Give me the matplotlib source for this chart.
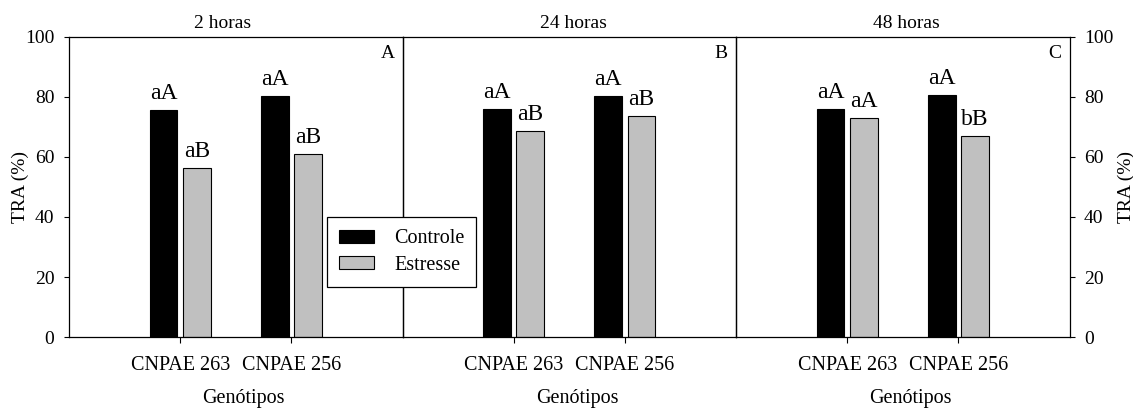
import numpy as np
import matplotlib
matplotlib.use("Agg")
import matplotlib.pyplot as plt
from matplotlib.patches import Patch

plt.rcParams['font.family'] = ['Liberation Serif', 'DejaVu Serif']
plt.rcParams['font.size'] = 14

# dados
genotipos = ["CNPAE 263", "CNPAE 256"]
tempos = ["2 horas", "24 horas", "48 horas"]
paineis = ["A", "B", "C"]
controle = [[75.7, 80.4], [75.9, 80.4], [75.9, 80.6]]
estresse = [[56.2, 61.1], [68.8, 73.8], [73.1, 67.1]]
letras_controle = [["aA", "aA"], ["aA", "aA"], ["aA", "aA"]]
letras_estresse = [["aB", "aB"], ["aB", "aB"], ["aA", "bB"]]

cor_controle = "black"
cor_estresse = "#c0c0c0"

fig = plt.figure(figsize=(11.33, 4.08), dpi=100)
W, H = 1133, 408
left0, pw = 69, 333.5
top_px, bot_px = 37, 337

x = np.arange(1, len(genotipos) + 1)
bw = 0.25
off = 0.15

title_dx = [-13, 4, 4]

for i in range(3):
    ax = fig.add_axes([(left0 + i * pw) / W, 1 - bot_px / H, pw / W, (bot_px - top_px) / H])
    ax.patch.set_alpha(0)
    ax.bar(x - off, controle[i], bw, color=cor_controle, edgecolor="black", linewidth=0.8)
    ax.bar(x + off, estresse[i], bw, color=cor_estresse, edgecolor="black", linewidth=0.8)
    for j in range(len(genotipos)):
        ax.text(x[j] - off, controle[i][j] + 2.0, letras_controle[i][j], ha="center", va="bottom", fontsize=17)
        ax.text(x[j] + off, estresse[i][j] + 2.0, letras_estresse[i][j], ha="center", va="bottom", fontsize=17)
    ax.set_xlim(0, 3)
    ax.set_ylim(0, 100)
    ax.set_xticks(x)
    ax.set_xticklabels(genotipos, fontsize=14.5)
    ax.tick_params(axis="x", direction="out", length=4, pad=10)
    ax.set_xlabel("Genótipos", fontsize=14.5)
    ax.xaxis.set_label_coords(0.5 + 8 / pw, -0.175)
    ax.text(0.5 + title_dx[i] / pw, 1.045, tempos[i], transform=ax.transAxes, ha="center", va="center", fontsize=14)
    ax.text(0.955, 0.945, paineis[i], transform=ax.transAxes, ha="center", va="center", fontsize=14)
    for s in ax.spines.values():
        s.set_linewidth(0.9)
    if i == 0:
        ax.set_yticks(np.arange(0, 101, 20))
        ax.tick_params(axis="y", direction="out", length=3.5, pad=7)
        ax.set_ylabel("TRA (%)")
        ax.yaxis.set_label_coords(-0.12, 0.5)
    elif i == 2:
        ax.yaxis.tick_right()
        ax.yaxis.set_label_position("right")
        ax.set_yticks(np.arange(0, 101, 20))
        ax.tick_params(axis="y", direction="out", length=3.5, pad=7)
        ax.set_ylabel("TRA (%)")
        ax.yaxis.set_label_coords(1.145, 0.5)
    else:
        ax.set_yticks([])

handles = [Patch(facecolor=cor_controle, edgecolor="black", linewidth=0.8, label="Controle"),
           Patch(facecolor=cor_estresse, edgecolor="black", linewidth=0.8, label="Estresse")]
leg = fig.legend(handles=handles, loc="center",
                 bbox_to_anchor=((326 + 477) / 2 / W, 1 - (216 + 288) / 2 / H),
                 frameon=True, fancybox=False, framealpha=1, edgecolor="black",
                 fontsize=14.5, handlelength=1.75, handleheight=0.65,
                 borderpad=0.6, labelspacing=0.35, handletextpad=1.0, borderaxespad=0)
leg.get_frame().set_linewidth(0.9)

fig.savefig("out.png", dpi=100)
